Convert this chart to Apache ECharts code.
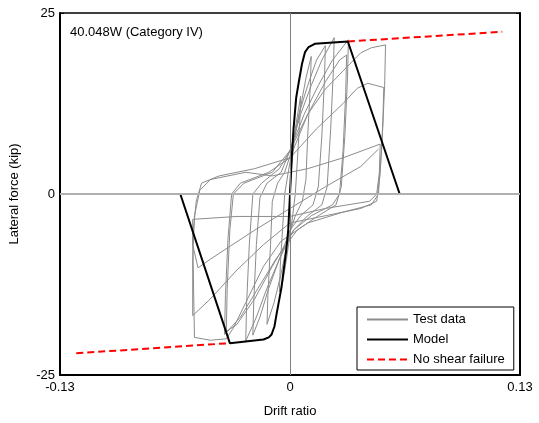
<!DOCTYPE html>
<html>
<head>
<meta charset="utf-8">
<script src="https://cdn.jsdelivr.net/npm/echarts@6/dist/echarts.min.js"></script>
<style>
  html, body { margin: 0; padding: 0; background: #fff; }
  #chart { width: 539px; height: 423px; }
</style>
</head>
<body>
<div id="chart"></div>
<script>
// axis ticks
const xTicks = [-0.13, 0, 0.13]
const yTicks = [-25, 0, 25]

// test data, one array per loading cycle [drift ratio, force kip]
const cycle1 = [[0, 0], [0.001, 4], [0.003, 9], [0.005, 12], [0.006, 13.5], [0.0055, 10], [0.004, 4], [0.003, 0], [0.001, -4], [-0.002, -9], [-0.004, -12], [-0.006, -13.5], [-0.0055, -10], [-0.004, -4], [-0.003, 0], [-0.001, 3]]
const cycle2 = [[0.002, 7], [0.006, 12], [0.009, 16], [0.012, 19], [0.0115, 15], [0.010, 8], [0.009, 2], [0.007, -1], [0.003, -3], [-0.001, -6], [-0.005, -11], [-0.009, -15], [-0.013, -18], [-0.0125, -14], [-0.011, -7], [-0.010, -1], [-0.007, 1.5], [-0.003, 3]]
const cycle3 = [[0.001, 6], [0.005, 11], [0.010, 15], [0.015, 18.5], [0.020, 20.5], [0.0195, 16], [0.018, 8], [0.016, 1], [0.013, -1.5], [0.006, -3], [0.0, -5], [-0.006, -9], [-0.012, -13], [-0.017, -17], [-0.021, -19.5], [-0.0205, -15], [-0.019, -7], [-0.017, -0.5], [-0.013, 1.5], [-0.005, 3]]
const cycle4 = [[0.0, 6], [0.006, 11], [0.012, 15], [0.018, 18.5], [0.025, 21.6], [0.0245, 17], [0.023, 9], [0.021, 1], [0.018, -1.5], [0.010, -3], [0.002, -5], [-0.006, -9], [-0.013, -13], [-0.019, -17], [-0.025, -20.3], [-0.0245, -15], [-0.023, -7], [-0.021, 0], [-0.016, 1.5], [-0.006, 3.5]]
const cycle5 = [[0.0, 6], [0.008, 11], [0.016, 15], [0.024, 18.5], [0.033, 21.3], [0.0325, 16], [0.031, 8], [0.029, 1], [0.026, -1.5], [0.016, -3], [0.004, -5], [-0.008, -9], [-0.018, -13], [-0.028, -17], [-0.037, -19.4], [-0.0365, -14], [-0.035, -6], [-0.033, 0], [-0.028, 1.5], [-0.012, 3]]
const cycle5b = [[0.0, 5], [0.01, 11], [0.02, 15.5], [0.028, 18.5], [0.032, 19.2], [0.0315, 14], [0.030, 6], [0.028, 0], [0.024, -1.5], [0.012, -3], [0.002, -5], [-0.01, -10], [-0.02, -14.5], [-0.03, -18], [-0.036, -19], [-0.0355, -13], [-0.034, -5], [-0.032, 0], [-0.026, 1.5], [-0.01, 3]]
const cycle6 = [[0.0, 6], [0.01, 11], [0.02, 14.5], [0.03, 17], [0.040, 19.5], [0.046, 20.2], [0.054, 20.6], [0.0535, 15], [0.052, 7], [0.050, 0], [0.046, -1.5], [0.03, -2.5], [0.01, -4], [-0.005, -6.5], [-0.015, -10], [-0.025, -15], [-0.032, -18.5], [-0.036, -20], [-0.045, -20.2], [-0.054, -19.8], [-0.0545, -13], [-0.055, -6], [-0.053, -1], [-0.050, 1.5], [-0.04, 2.5], [-0.02, 3.5]]
const cycle7 = [[0.0, 5], [0.015, 9], [0.03, 12.5], [0.038, 14.6], [0.044, 15.3], [0.053, 14.7], [0.0525, 10], [0.051, 3], [0.049, -1], [0.040, -2], [0.02, -3], [0.0, -4], [-0.015, -7], [-0.03, -10.5], [-0.045, -14.5], [-0.055, -16.8], [-0.055, -9], [-0.054, -3], [-0.051, 0.5], [-0.045, 2], [-0.025, 3]]
const cycle8 = [[-0.01, 2.5], [0.01, 3.5], [0.03, 5], [0.051, 6.9], [0.0505, 3], [0.049, 0], [0.045, -1], [0.02, -2], [0.0, -3.1], [-0.03, -3.1], [-0.055, -3.5], [-0.055, -7], [-0.052, -10.2], [-0.045, -9], [-0.02, -5], [0.0, -2], [0.02, 1], [0.04, 3.8], [0.05, 6.2]]

// model backbone
const modelData = [[-0.062, 0], [-0.034, -20.6], [-0.015, -20.1], [-0.012, -19.8], [-0.0104, -19.4], [-0.0088, -18.3], [-0.0076, -16.6], [-0.0048, -12.9], [-0.002, -7.5], [-0.001, -5], [0, 0], [0.001, 5], [0.002, 9], [0.0035, 13.3], [0.005, 15.5], [0.0068, 18], [0.0085, 19.6], [0.0105, 20.3], [0.014, 20.75], [0.0327, 21.07], [0.062, 0]]
// no shear failure extensions
const noShearPos = [[0.0327, 21.07], [0.120, 22.4]]
const noShearNeg = [[-0.1208, -22.0], [-0.034, -20.6]]

const testData = [...cycle1, ...cycle2, ...cycle3, ...cycle4, ...cycle5, ...cycle5b, ...cycle6, ...cycle7, ...cycle8]

const chart = echarts.init(document.getElementById('chart'))

const FONT = 'Liberation Sans, Arial, sans-serif'
const tickFmt = v => (xTicks.includes(+v.toFixed(2)) ? String(+v.toFixed(2)) : '')

const option = {
  animation: false,
  backgroundColor: '#fff',
  textStyle: { fontFamily: FONT },
  grid: { left: 57, right: 19, top: 13, bottom: 45, containLabel: false },
  graphic: [{
    type: 'text',
    left: 70,
    top: 26,
    style: { text: '40.048W (Category IV)', font: '13px ' + FONT, fill: '#000' }
  }],
  legend: {
    data: ['Test data', 'Model', 'No shear failure'],
    orient: 'vertical',
    left: 357,
    top: 307,
    width: 159,
    padding: [6, 9, 4, 9],
    itemWidth: 41,
    itemHeight: 14,
    itemGap: 7,
    backgroundColor: '#fff',
    borderColor: '#000',
    borderWidth: 1,
    borderRadius: 0,
    selectedMode: false,
    itemStyle: { opacity: 0 },
    textStyle: { fontSize: 13, color: '#000', fontFamily: FONT }
  },
  xAxis: [{
    type: 'value',
    min: -0.13,
    max: 0.13,
    interval: 0.13,
    name: 'Drift ratio',
    nameLocation: 'middle',
    nameGap: 30,
    nameTextStyle: { fontSize: 13, color: '#000' },
    axisLine: { onZero: false, lineStyle: { color: '#000', width: 2 } },
    axisTick: { inside: true, length: 4, lineStyle: { color: '#000' } },
    axisLabel: { color: '#000', fontSize: 13, margin: 6, formatter: tickFmt },
    splitLine: { show: false }
  }, {
    type: 'value',
    position: 'top',
    min: -0.13,
    max: 0.13,
    interval: 0.13,
    axisLine: { onZero: false, lineStyle: { color: '#000', width: 1.5 } },
    axisTick: { inside: true, length: 4, lineStyle: { color: '#000' } },
    axisLabel: { show: false },
    splitLine: { show: false }
  }],
  yAxis: [{
    type: 'value',
    min: -25,
    max: 25,
    interval: 25,
    name: 'Lateral force (kip)',
    nameLocation: 'middle',
    nameGap: 39,
    nameTextStyle: { fontSize: 13, color: '#000' },
    axisLine: { show: true, onZero: false, lineStyle: { color: '#000', width: 2 } },
    axisTick: { show: true, inside: true, length: 4, lineStyle: { color: '#000' } },
    axisLabel: { color: '#000', fontSize: 13, margin: 5 },
    splitLine: { show: false }
  }, {
    type: 'value',
    position: 'right',
    min: -25,
    max: 25,
    interval: 25,
    axisLine: { show: true, onZero: false, lineStyle: { color: '#000', width: 2 } },
    axisTick: { show: true, inside: true, length: 4, lineStyle: { color: '#000' } },
    axisLabel: { show: false },
    splitLine: { show: false }
  }],
  series: [
    {
      // zero reference lines
      name: 'zero',
      type: 'line',
      data: [],
      z: 1,
      markLine: {
        silent: true,
        symbol: 'none',
        label: { show: false },
        data: [
          { xAxis: 0, lineStyle: { color: '#808080', width: 1, type: 'solid' } },
          { yAxis: 0, lineStyle: { color: '#b0b0b0', width: 2, type: 'solid' } }
        ]
      }
    },
    {
      name: 'Test data',
      type: 'line',
      data: testData,
      symbol: 'none',
      z: 2,
      lineStyle: { color: '#8c8c8c', width: 1 },
      itemStyle: { color: '#8c8c8c' }
    },
    {
      name: 'Model',
      type: 'line',
      data: modelData,
      symbol: 'none',
      z: 4,
      lineStyle: { color: '#000', width: 2 },
      itemStyle: { color: '#000' }
    },
    {
      name: 'No shear failure',
      type: 'line',
      data: noShearPos,
      symbol: 'none',
      z: 3,
      lineStyle: { color: '#ff0000', width: 2, type: [7, 4] },
      itemStyle: { color: '#ff0000' }
    },
    {
      name: 'No shear failure',
      type: 'line',
      data: noShearNeg,
      symbol: 'none',
      z: 3,
      lineStyle: { color: '#ff0000', width: 2, type: [7, 4] },
      itemStyle: { color: '#ff0000' }
    }
  ]
}

chart.setOption(option)
</script>
</body>
</html>
